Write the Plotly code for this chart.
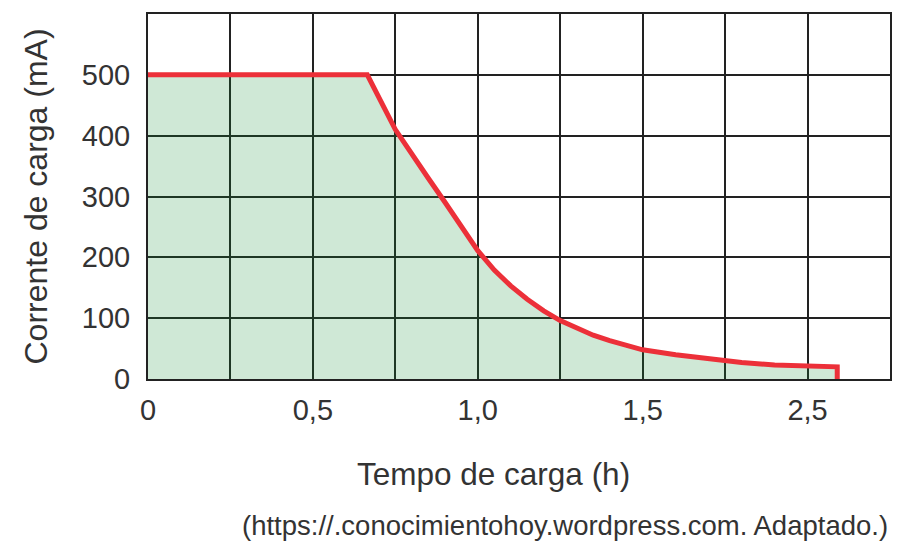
import plotly.graph_objects as go

# Values
time_h = [0, 0.665, 0.75, 0.80, 0.85, 0.90, 0.95, 1.0, 1.05, 1.10, 1.15,
          1.20, 1.25, 1.30, 1.35, 1.40, 1.45, 1.50, 1.60, 1.70, 1.80, 1.90,
          2.0, 2.09, 2.09]
current_ma = [500, 500, 410, 369, 330, 291, 251, 211, 179, 153, 131,
              112, 96, 83, 72, 63, 55, 48, 40, 33, 27, 23,
              21, 20, 0]

x_tick_vals = [0, 0.25, 0.5, 0.75, 1.0, 1.25, 1.5, 1.75, 2.0, 2.25]
x_tick_text = ["0", "", "0,5", "", "1,0", "", "1,5", "", "2,5", ""]
y_tick_vals = [0, 100, 200, 300, 400, 500, 600]
y_tick_text = ["0", "100", "200", "300", "400", "500", ""]

font_name = "Liberation Sans, Arial, sans-serif"
text_color = "#333333"
grid_color = "#222222"

fig = go.Figure()
# a thin, low-alpha fill keeps the grid lines dark where they pass under it
fig.add_trace(go.Scatter(
    x=time_h, y=current_ma, mode="lines",
    line=dict(color="#ec3039", width=5),
    fill="tozeroy", fillcolor="rgba(15,140,50,0.2)",
    hoverinfo="x+y", showlegend=False,
))

fig.update_xaxes(
    range=[0, 2.25], tickvals=x_tick_vals, ticktext=x_tick_text,
    showgrid=True, gridcolor=grid_color, gridwidth=2,
    showline=True, linecolor=grid_color, linewidth=2, mirror=True,
    ticks="outside", ticklen=4, tickcolor="rgba(0,0,0,0)",
    tickfont=dict(size=29, color=text_color, family=font_name),
    zeroline=False,
)
fig.update_yaxes(
    range=[0, 600], tickvals=y_tick_vals, ticktext=y_tick_text,
    showgrid=True, gridcolor=grid_color, gridwidth=2,
    showline=True, linecolor=grid_color, linewidth=2, mirror=True,
    ticks="outside", ticklen=10, tickcolor="rgba(0,0,0,0)",
    tickfont=dict(size=29, color=text_color, family=font_name),
    zeroline=False,
)

# page body adds an 8px offset, margins compensate for it
fig.update_layout(
    width=904, height=553,
    margin=dict(l=140, r=22, t=4, b=182),
    plot_bgcolor="white", paper_bgcolor="white",
    font=dict(family=font_name, color=text_color),
    annotations=[
        dict(text="Tempo de carga (h)", x=0.465, y=-0.26,
             xref="paper", yref="paper", xanchor="center", yanchor="middle",
             showarrow=False, font=dict(size=31.5)),
        dict(text="Corrente de carga (mA)", x=-113 / 742, y=0.5,
             xref="paper", yref="paper", xanchor="center", yanchor="middle",
             textangle=-90, showarrow=False, font=dict(size=32)),
        dict(text="(https://.conocimientohoy.wordpress.com. Adaptado.)",
             x=1.0, y=-0.40, xref="paper", yref="paper",
             xanchor="right", yanchor="middle",
             showarrow=False, font=dict(size=27.5)),
    ],
)

fig.write_html("out.html")
